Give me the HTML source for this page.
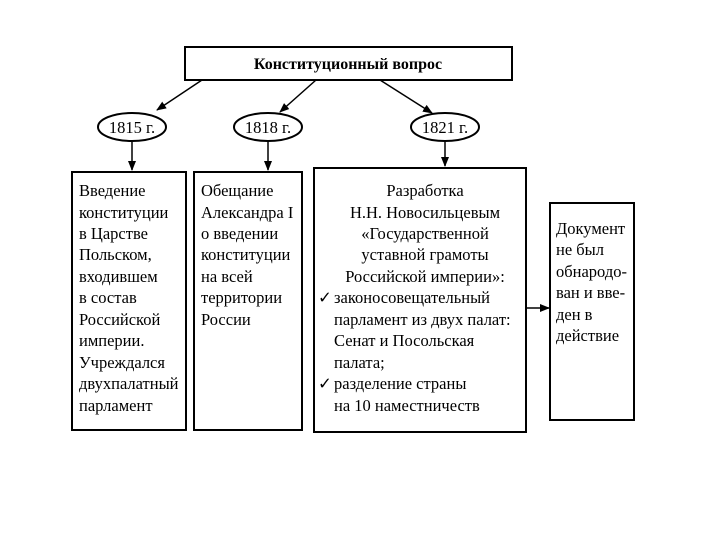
<!DOCTYPE html>
<html><head><meta charset="utf-8"><style>
body{margin:0;background:#fff;}
svg{display:block;font-family:"Liberation Serif","DejaVu Serif",serif;}
text{font-size:16.5px;fill:#000;}
</style></head><body>
<svg width="720" height="540" viewBox="0 0 720 540" xmlns="http://www.w3.org/2000/svg">
<defs><marker id="a" markerWidth="10" markerHeight="8" refX="9" refY="4" orient="auto" markerUnits="userSpaceOnUse"><path d="M0,0 L10,4 L0,8 z" fill="#000"/></marker></defs>
<g stroke="#000" stroke-width="2" fill="none">
<rect x="185" y="47" width="327" height="33"/>
<ellipse cx="132" cy="127" rx="34" ry="14"/>
<ellipse cx="268" cy="127" rx="34" ry="14"/>
<ellipse cx="445" cy="127" rx="34" ry="14"/>
<rect x="72" y="172" width="114" height="258"/>
<rect x="194" y="172" width="108" height="258"/>
<rect x="314" y="168" width="212" height="264"/>
<rect x="550" y="203" width="84" height="217"/>
</g>
<g stroke="#000" stroke-width="1.5" marker-end="url(#a)">
<line x1="202" y1="80" x2="157" y2="110"/>
<line x1="316" y1="80" x2="280" y2="112"/>
<line x1="380" y1="80" x2="432" y2="113"/>
<line x1="132" y1="142" x2="132" y2="170"/>
<line x1="268" y1="142" x2="268" y2="170"/>
<line x1="445" y1="142" x2="445" y2="166"/>
<line x1="526" y1="308" x2="549" y2="308"/>
</g>
<text x="348" y="69" text-anchor="middle" style="font-weight:bold;font-size:16px">Конституционный вопрос</text>
<text x="132" y="133" text-anchor="middle">1815 г.</text>
<text x="268" y="133" text-anchor="middle">1818 г.</text>
<text x="445" y="133" text-anchor="middle">1821 г.</text>
<g>
<text x="79" y="196">Введение</text>
<text x="79" y="218">конституции</text>
<text x="79" y="239">в Царстве</text>
<text x="79" y="260">Польском,</text>
<text x="79" y="282">входившем</text>
<text x="79" y="303">в состав</text>
<text x="79" y="325">Российской</text>
<text x="79" y="346">империи.</text>
<text x="79" y="368">Учреждался</text>
<text x="79" y="389">двухпалатный</text>
<text x="79" y="411">парламент</text>
</g>
<g>
<text x="201" y="196">Обещание</text>
<text x="201" y="218">Александра I</text>
<text x="201" y="239">о введении</text>
<text x="201" y="260">конституции</text>
<text x="201" y="282">на всей</text>
<text x="201" y="303">территории</text>
<text x="201" y="325">России</text>
</g>
<g text-anchor="middle">
<text x="425" y="196">Разработка</text>
<text x="425" y="218">Н.Н. Новосильцевым</text>
<text x="425" y="239">«Государственной</text>
<text x="425" y="260">уставной грамоты</text>
<text x="425" y="282">Российской империи»:</text>
</g>
<g>
<text x="318" y="303">✓</text>
<text x="334" y="303">законосовещательный</text>
<text x="334" y="325">парламент из двух палат:</text>
<text x="334" y="346">Сенат и Посольская</text>
<text x="334" y="368">палата;</text>
<text x="318" y="389">✓</text>
<text x="334" y="389">разделение страны</text>
<text x="334" y="411">на 10 наместничеств</text>
</g>
<g style="font-size:15px">
<text x="556" y="234">Документ</text>
<text x="556" y="255">не был</text>
<text x="556" y="277">обнародо-</text>
<text x="556" y="298">ван и вве-</text>
<text x="556" y="320">ден в</text>
<text x="556" y="341">действие</text>
</g>
</svg>
</body></html>
